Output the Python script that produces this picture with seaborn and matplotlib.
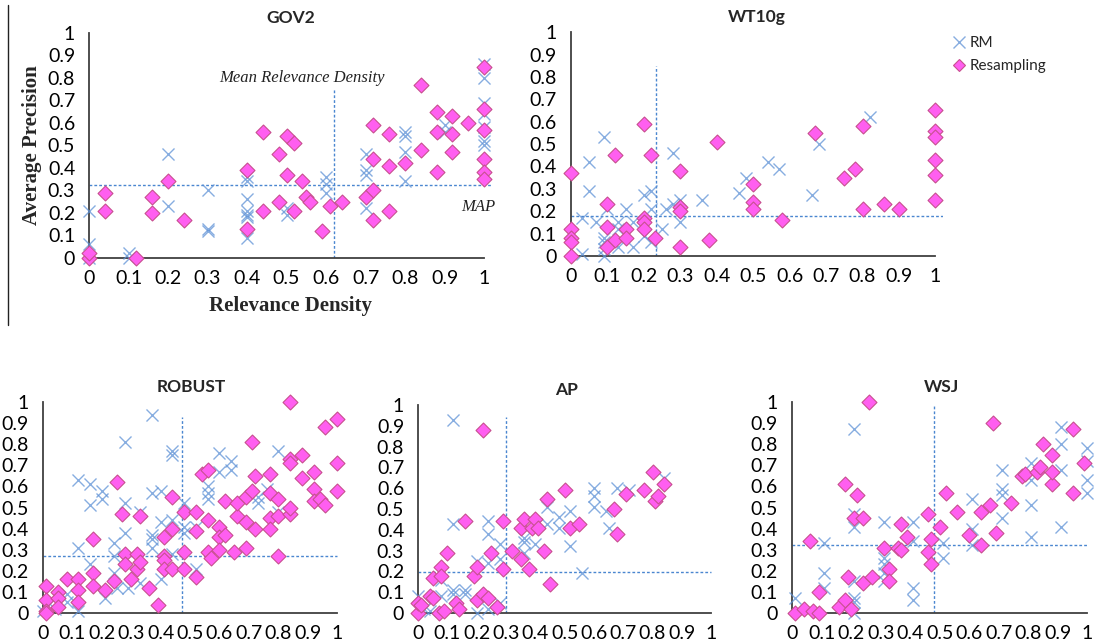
import matplotlib
matplotlib.use('Agg')
import matplotlib.pyplot as plt
import pandas as pd
import seaborn as sns
from matplotlib.lines import Line2D

# ---- data ----
gov2_rm_x = [0, 0, 0, 0.1, 0.1, 0.2, 0.2, 0.3, 0.3, 0.3, 0.4, 0.4, 0.4, 0.4, 0.4, 0.4, 0.4,
             0.5, 0.5, 0.6, 0.6, 0.6, 0.7, 0.7, 0.7, 0.7, 0.8, 0.8, 0.8, 0.8, 0.9, 0.9,
             1, 1, 1, 1, 1, 1, 1]
gov2_rm_y = [0.21, 0.06, 0.0, 0.0, 0.02, 0.46, 0.23, 0.30, 0.13, 0.12, 0.36, 0.34, 0.26, 0.21, 0.19, 0.18, 0.09,
             0.22, 0.19, 0.36, 0.33, 0.29, 0.46, 0.39, 0.37, 0.22, 0.56, 0.54, 0.47, 0.34, 0.59, 0.56,
             0.86, 0.80, 0.69, 0.64, 0.58, 0.52, 0.50]
gov2_rs_x = [0, 0, 0.04, 0.04, 0.12, 0.16, 0.16, 0.2, 0.24, 0.4, 0.4, 0.44, 0.44, 0.48, 0.48, 0.5, 0.5,
             0.52, 0.52, 0.54, 0.55, 0.56, 0.59, 0.61, 0.64, 0.70, 0.72, 0.72, 0.72, 0.72, 0.76, 0.76, 0.76,
             0.80, 0.84, 0.84, 0.88, 0.88, 0.88, 0.92, 0.92, 0.92, 0.96, 1, 1, 1, 1, 1, 1]
gov2_rs_y = [0.0, 0.02, 0.29, 0.21, 0.0, 0.27, 0.2, 0.34, 0.17, 0.39, 0.13, 0.56, 0.21, 0.46, 0.25, 0.54, 0.37,
             0.51, 0.21, 0.34, 0.27, 0.25, 0.12, 0.23, 0.25, 0.27, 0.59, 0.44, 0.30, 0.17, 0.55, 0.41, 0.21,
             0.42, 0.77, 0.48, 0.65, 0.56, 0.38, 0.55, 0.63, 0.47, 0.60, 0.85, 0.66, 0.57, 0.44, 0.38, 0.35]
gov2_mean_rd, gov2_map = 0.62, 0.325

wt10g_rm_x = [0.03, 0.03, 0.05, 0.05, 0.07, 0.09, 0.09, 0.09, 0.09, 0.09, 0.10, 0.13, 0.13, 0.13, 0.15,
              0.17, 0.17, 0.20, 0.20, 0.22, 0.22, 0.22, 0.25, 0.26, 0.28, 0.28, 0.30, 0.30, 0.36,
              0.46, 0.48, 0.54, 0.57, 0.66, 0.68, 0.82]
wt10g_rm_y = [0.17, 0.01, 0.42, 0.29, 0.15, 0.53, 0.08, 0.06, 0.03, 0.0, 0.21, 0.04, 0.12, 0.15, 0.21,
              0.04, 0.15, 0.27, 0.09, 0.29, 0.21, 0.06, 0.12, 0.21, 0.46, 0.23, 0.25, 0.15, 0.25,
              0.28, 0.35, 0.42, 0.39, 0.27, 0.50, 0.62]
wt10g_rs_x = [0, 0, 0, 0, 0, 0.10, 0.10, 0.10, 0.12, 0.12, 0.15, 0.15, 0.20, 0.20, 0.20, 0.20,
              0.22, 0.23, 0.30, 0.30, 0.30, 0.30, 0.38, 0.40, 0.50, 0.50, 0.50, 0.58, 0.67, 0.75,
              0.78, 0.80, 0.80, 0.86, 0.90, 1, 1, 1, 1, 1, 1]
wt10g_rs_y = [0.37, 0.12, 0.08, 0.06, 0.0, 0.23, 0.13, 0.04, 0.45, 0.07, 0.12, 0.08, 0.59, 0.17, 0.15, 0.12,
              0.45, 0.08, 0.38, 0.22, 0.20, 0.04, 0.07, 0.51, 0.32, 0.24, 0.21, 0.16, 0.55, 0.35,
              0.39, 0.58, 0.21, 0.23, 0.21, 0.65, 0.56, 0.53, 0.43, 0.36, 0.25]
wt10g_mean_rd, wt10g_map = 0.234, 0.18

robust_rm_x = [0, 0.01, 0.04, 0.08, 0.08, 0.12, 0.12, 0.12, 0.16, 0.16, 0.16, 0.20, 0.20, 0.21,
               0.24, 0.24, 0.24, 0.25, 0.28, 0.28, 0.28, 0.29, 0.33, 0.33, 0.37, 0.37, 0.37, 0.37, 0.37,
               0.40, 0.40, 0.40, 0.44, 0.44, 0.44, 0.44, 0.48, 0.48, 0.48, 0.52, 0.52, 0.56, 0.56, 0.56,
               0.60, 0.60, 0.64, 0.64, 0.73, 0.73, 0.76, 0.80, 0.80]
robust_rm_y = [0.01, 0.03, 0.02, 0.09, 0.05, 0.63, 0.31, 0.01, 0.61, 0.51, 0.23, 0.58, 0.54, 0.07,
               0.33, 0.27, 0.19, 0.12, 0.81, 0.52, 0.38, 0.12, 0.48, 0.14, 0.94, 0.57, 0.37, 0.35, 0.31,
               0.58, 0.43, 0.16, 0.77, 0.75, 0.44, 0.28, 0.52, 0.41, 0.38, 0.41, 0.21, 0.60, 0.57, 0.54,
               0.76, 0.67, 0.72, 0.68, 0.55, 0.52, 0.59, 0.77, 0.48]
robust_rs_x = [0.01, 0.01, 0.01, 0.01, 0.05, 0.05, 0.05, 0.08, 0.12, 0.12, 0.12, 0.17, 0.17, 0.17, 0.21,
               0.24, 0.25, 0.27, 0.28, 0.28, 0.30, 0.32, 0.32, 0.33, 0.33, 0.36, 0.39, 0.41, 0.41, 0.41,
               0.41, 0.44, 0.44, 0.44, 0.48, 0.48, 0.48, 0.52, 0.52, 0.52, 0.54, 0.56, 0.56, 0.56, 0.57,
               0.60, 0.60, 0.60, 0.62, 0.62, 0.65, 0.66, 0.66, 0.69, 0.69, 0.69, 0.71, 0.71, 0.72, 0.72,
               0.77, 0.77, 0.77, 0.77, 0.80, 0.80, 0.80, 0.84, 0.84, 0.84, 0.84, 0.84, 0.88, 0.88,
               0.92, 0.92, 0.92, 0.94, 0.96, 0.96, 1.0, 1.0, 1.0]
robust_rs_y = [0.13, 0.06, 0.01, 0.0, 0.10, 0.07, 0.03, 0.16, 0.16, 0.11, 0.05, 0.35, 0.19, 0.13, 0.11,
               0.15, 0.62, 0.47, 0.28, 0.23, 0.16, 0.28, 0.21, 0.46, 0.24, 0.12, 0.04, 0.27, 0.25, 0.21,
               0.36, 0.55, 0.40, 0.21, 0.48, 0.29, 0.21, 0.48, 0.39, 0.17, 0.66, 0.68, 0.44, 0.29, 0.26,
               0.41, 0.36, 0.30, 0.37, 0.53, 0.29, 0.46, 0.52, 0.55, 0.43, 0.31, 0.58, 0.81, 0.65, 0.40,
               0.66, 0.57, 0.45, 0.40, 0.54, 0.27, 0.46, 1.0, 0.73, 0.47, 0.50, 0.71, 0.75, 0.64,
               0.67, 0.59, 0.53, 0.54, 0.51, 0.88, 0.92, 0.71, 0.58]
robust_mean_rd, robust_map = 0.472, 0.27

ap_rm_x = [0, 0.02, 0.04, 0.08, 0.08, 0.12, 0.12, 0.12, 0.12, 0.16, 0.16, 0.20, 0.20, 0.24, 0.24,
           0.24, 0.24, 0.28, 0.28, 0.28, 0.36, 0.36, 0.36, 0.40, 0.44, 0.44, 0.48, 0.48, 0.52, 0.52,
           0.56, 0.60, 0.60, 0.60, 0.64, 0.65, 0.68, 0.72, 0.84]
ap_rm_y = [0.08, 0.02, 0.01, 0.08, 0.16, 0.93, 0.43, 0.11, 0.09, 0.11, 0.09, 0.25, 0.0, 0.44, 0.38,
           0.24, 0.02, 0.33, 0.26, 0.05, 0.36, 0.34, 0.29, 0.33, 0.51, 0.43, 0.46, 0.41, 0.49, 0.32,
           0.19, 0.60, 0.56, 0.51, 0.49, 0.41, 0.60, 0.59, 0.65]
ap_rs_x = [0, 0, 0.01, 0.04, 0.05, 0.05, 0.07, 0.08, 0.08, 0.09, 0.10, 0.13, 0.14, 0.16, 0.19, 0.20,
           0.20, 0.22, 0.22, 0.24, 0.25, 0.27, 0.29, 0.29, 0.32, 0.35, 0.35, 0.36, 0.38, 0.39, 0.40,
           0.41, 0.43, 0.44, 0.45, 0.50, 0.52, 0.55, 0.67, 0.68, 0.71, 0.77, 0.80, 0.81, 0.82, 0.84]
ap_rs_y = [0.0, 0.05, 0.04, 0.08, 0.07, 0.17, 0.0, 0.22, 0.18, 0.01, 0.29, 0.05, 0.02, 0.44, 0.18, 0.22,
           0.06, 0.88, 0.09, 0.07, 0.29, 0.03, 0.44, 0.21, 0.30, 0.41, 0.26, 0.45, 0.21, 0.41, 0.45,
           0.41, 0.30, 0.55, 0.14, 0.59, 0.41, 0.43, 0.50, 0.38, 0.57, 0.59, 0.68, 0.54, 0.56, 0.62]
ap_mean_rd, ap_map = 0.30, 0.195

wsj_rm_x = [0.01, 0.11, 0.11, 0.11, 0.21, 0.21, 0.21, 0.21, 0.21, 0.21, 0.21, 0.31, 0.31, 0.31, 0.31,
            0.31, 0.41, 0.41, 0.41, 0.41, 0.51, 0.51, 0.61, 0.61, 0.61, 0.71, 0.71, 0.71, 0.71,
            0.81, 0.81, 0.81, 0.81, 0.91, 0.91, 0.91, 0.91, 1.0, 1.0, 1.0, 1.0]
wsj_rm_y = [0.07, 0.33, 0.19, 0.12, 0.87, 0.47, 0.41, 0.15, 0.07, 0.05, 0.0, 0.43, 0.26, 0.23, 0.19,
            0.15, 0.43, 0.34, 0.12, 0.06, 0.33, 0.26, 0.54, 0.40, 0.32, 0.68, 0.59, 0.56, 0.45,
            0.71, 0.63, 0.51, 0.36, 0.88, 0.80, 0.68, 0.41, 0.78, 0.72, 0.63, 0.57]
wsj_rs_x = [0.01, 0.04, 0.06, 0.07, 0.09, 0.09, 0.16, 0.18, 0.18, 0.19, 0.20, 0.21, 0.22, 0.24, 0.24,
            0.26, 0.27, 0.31, 0.33, 0.33, 0.36, 0.37, 0.37, 0.39, 0.46, 0.46, 0.47, 0.47, 0.50, 0.52,
            0.56, 0.60, 0.64, 0.64, 0.67, 0.68, 0.69, 0.74, 0.78, 0.79, 0.83, 0.84, 0.85, 0.88, 0.88,
            0.88, 0.95, 0.95, 0.99]
wsj_rs_y = [0.0, 0.02, 0.34, 0.01, 0.10, 0.0, 0.03, 0.61, 0.06, 0.17, 0.02, 0.45, 0.56, 0.14, 0.45,
            1.0, 0.17, 0.31, 0.21, 0.15, 0.31, 0.30, 0.42, 0.36, 0.47, 0.29, 0.23, 0.35, 0.41, 0.57,
            0.48, 0.37, 0.48, 0.32, 0.51, 0.90, 0.38, 0.52, 0.65, 0.66, 0.67, 0.69, 0.80, 0.61, 0.67,
            0.75, 0.87, 0.57, 0.71]
wsj_mean_rd, wsj_map = 0.48, 0.32

tick_vals = [0, 0.1, 0.2, 0.3, 0.4, 0.5, 0.6, 0.7, 0.8, 0.9, 1]
tick_labels = ['0', '0.1', '0.2', '0.3', '0.4', '0.5', '0.6', '0.7', '0.8', '0.9', '1']

sns.set_style('white')
plt.rcParams['font.family'] = ['Lato', 'DejaVu Sans']

RM_COLOR = '#5f92d6'
RS_FACE = '#ff5ef0'
RS_EDGE = '#c8508f'
LINE_COLOR = '#4a86d0'

fig = plt.figure(figsize=(11.13, 6.43), dpi=100)


def panel(rect, title, rm_x, rm_y, rs_x, rs_y, mean_rd, map_val, vtop, xmax=1.02, hmax=1.02):
    ax = fig.add_axes(rect)
    rm = pd.DataFrame({'x': rm_x, 'y': rm_y})
    rs = pd.DataFrame({'x': rs_x, 'y': rs_y})
    sns.scatterplot(data=rm, x='x', y='y', ax=ax, marker='x', s=75, color=RM_COLOR,
                    linewidth=1.0, alpha=0.75, clip_on=False, zorder=3)
    sns.scatterplot(data=rs, x='x', y='y', ax=ax, marker='D', s=58, color=RS_FACE,
                    edgecolor=RS_EDGE, linewidth=0.8, clip_on=False, zorder=4)
    ax.plot([mean_rd, mean_rd], [0, vtop], ls=(0, (2, 1.5)), color=LINE_COLOR, lw=1.0, zorder=2)
    ax.plot([0, hmax], [map_val, map_val], ls=(0, (2, 1.5)), color=LINE_COLOR, lw=1.0, zorder=2)
    ax.set_xlim(0, xmax)
    ax.set_ylim(0, 1)
    ax.set_xticks(tick_vals)
    ax.set_xticklabels(tick_labels)
    ax.set_yticks(tick_vals)
    ax.set_yticklabels(tick_labels)
    ax.tick_params(length=0, labelsize=14, pad=9, colors='#000000')
    ax.tick_params(axis='y', pad=10)
    for s in ['top', 'right']:
        ax.spines[s].set_visible(False)
    for s in ['left', 'bottom']:
        ax.spines[s].set_color('#404040')
        ax.spines[s].set_linewidth(1.3)
    ax.spines['bottom'].set_bounds(0, 1)
    ax.set_xlabel('')
    ax.set_ylabel('')
    ax.set_title(title, fontsize=12.5, fontweight='bold', pad=7)
    return ax


ax1 = panel([0.080, 0.599, 0.362, 0.350], 'GOV2', gov2_rm_x, gov2_rm_y, gov2_rs_x, gov2_rs_y,
            gov2_mean_rd, gov2_map, 0.75, hmax=1.025)
ax1.set_ylabel('Average Precision', family='Liberation Serif', fontweight='bold', fontsize=15, labelpad=4)
ax1.set_xlabel('Relevance Density', family='Liberation Serif', fontweight='bold', fontsize=15, labelpad=6)
ax1.text(0.54, 0.80, 'Mean Relevance Density', family='Liberation Serif', style='italic',
         fontsize=12, ha='center', va='center', color='#222222')
ax1.text(0.985, 0.225, 'MAP', family='Liberation Serif', style='italic',
         fontsize=12, ha='center', va='center', color='#222222')

ax2 = panel([0.513, 0.602, 0.334, 0.348], 'WT10g', wt10g_rm_x, wt10g_rm_y, wt10g_rs_x, wt10g_rs_y,
            wt10g_mean_rd, wt10g_map, 0.85, hmax=1.02)

ax3 = panel([0.0386, 0.0467, 0.267, 0.328], 'ROBUST', robust_rm_x, robust_rm_y, robust_rs_x, robust_rs_y,
            robust_mean_rd, robust_map, 0.93, xmax=1.01, hmax=1.0)
ax4 = panel([0.3756, 0.0467, 0.266, 0.3235], 'AP', ap_rm_x, ap_rm_y, ap_rs_x, ap_rs_y,
            ap_mean_rd, ap_map, 0.94, xmax=1.01, hmax=1.0)
ax5 = panel([0.7116, 0.0467, 0.268, 0.328], 'WSJ', wsj_rm_x, wsj_rm_y, wsj_rs_x, wsj_rs_y,
            wsj_mean_rd, wsj_map, 0.98, xmax=1.01, hmax=1.0)

# thin rule at the far left of the top panel
fig.add_artist(Line2D([0.0072, 0.0072], [0.992, 0.495], color='#222222', lw=1.0))

handles = [Line2D([], [], marker='x', ls='', color=RM_COLOR, markersize=8, markeredgewidth=1.0, alpha=0.75),
           Line2D([], [], marker='D', ls='', markerfacecolor=RS_FACE, markeredgecolor=RS_EDGE,
                  markersize=6, markeredgewidth=0.8)]
fig.legend(handles, ['RM', 'Resampling'], loc='upper left', bbox_to_anchor=(0.842, 0.965),
           frameon=False, fontsize=11, handletextpad=0.2, handlelength=1.0, labelspacing=0.6)

fig.savefig('out.png', dpi=100)
